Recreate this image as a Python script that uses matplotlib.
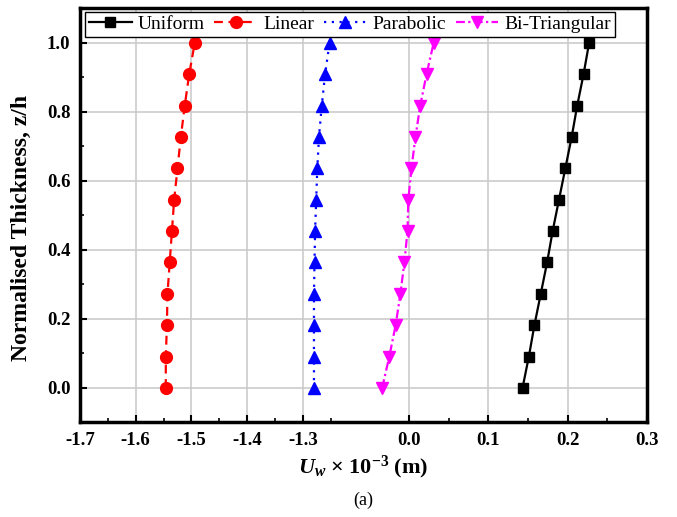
import numpy as np
import matplotlib
matplotlib.use("Agg")
import matplotlib.pyplot as plt
from matplotlib.ticker import FixedLocator

plt.rcParams['font.family'] = ['Liberation Serif', 'DejaVu Serif']
plt.rcParams['mathtext.fontset'] = 'custom'
plt.rcParams['mathtext.rm'] = 'Liberation Serif:bold'
plt.rcParams['mathtext.it'] = 'Liberation Serif:italic:bold'
plt.rcParams['mathtext.bf'] = 'Liberation Serif:bold'

# normalised thickness (12 points from 0 to 1)
z = np.linspace(0, 1, 12)

uniform = [0.143, 0.151, 0.158, 0.166, 0.174, 0.181, 0.189, 0.197, 0.205, 0.212, 0.220, 0.227]
linear = [-1.546, -1.546, -1.544, -1.543, -1.539, -1.535, -1.531, -1.525, -1.519, -1.512, -1.504, -1.494]
parabolic = [-1.280, -1.280, -1.280, -1.280, -1.279, -1.278, -1.276, -1.274, -1.271, -1.266, -1.260, -1.252]
bi_triangular = [-0.034, -0.025, -0.017, -0.011, -0.006, -0.002, -0.001, 0.003, 0.008, 0.014, 0.022, 0.031]

xticks = [-1.7, -1.6, -1.5, -1.4, -1.3, 0.0, 0.1, 0.2, 0.3]
xtick_labels = ["-1.7", "-1.6", "-1.5", "-1.4", "-1.3", "0.0", "0.1", "0.2", "0.3"]
yticks = [0.0, 0.2, 0.4, 0.6, 0.8, 1.0]

# broken x axis: -1.7..-1.2 | -0.05..0.3
b1, b2 = -1.2, -0.05
s1 = 0.9824
s2 = 1.3986
g1 = (b1 + 1.7) * s1
g2 = 1.0 - (0.3 - b2) * s2
sg = (g2 - g1) / (b2 - b1)


def fwd(x):
    x = np.asarray(x, dtype=float)
    return np.where(x <= b1, (x + 1.7) * s1,
                    np.where(x >= b2, g2 + (x - b2) * s2, g1 + (x - b1) * sg))


def inv(u):
    u = np.asarray(u, dtype=float)
    return np.where(u <= g1, u / s1 - 1.7,
                    np.where(u >= g2, b2 + (u - g2) / s2, b1 + (u - g1) / sg))


fig = plt.figure(figsize=(6.77, 5.17), dpi=100)
ax = fig.add_axes([0.1182, 0.1828, 0.8375, 0.8012])
ax.set_xscale('function', functions=(fwd, inv))

ax.plot(uniform, z, color='black', ls='-', lw=1.6, marker='s', ms=7, label='Uniform', zorder=3)
ax.plot(linear, z, color='red', ls=(0, (4, 2.5)), lw=1.6, marker='o', ms=8.5, label='Linear', zorder=3)
ax.plot(parabolic, z, color='blue', ls=(0, (1, 2.5)), lw=1.6, marker='^', ms=9, label='Parabolic', zorder=3)
ax.plot(bi_triangular, z, color='magenta', ls=(0, (4, 1.5, 1, 1.5)), lw=1.6, marker='v', ms=9,
        label='Bi-Triangular', zorder=3)

ax.set_xlim(-1.7, 0.3)
ax.set_ylim(-0.1, 1.1)
ax.xaxis.set_major_locator(FixedLocator(xticks))
ax.set_xticklabels(xtick_labels)
ax.xaxis.set_minor_locator(FixedLocator([-1.65, -1.55, -1.45, -1.35, -1.25, 0.05, 0.15, 0.25]))
ax.set_yticks(yticks)
ax.yaxis.set_minor_locator(FixedLocator([-0.1, 0.1, 0.3, 0.5, 0.7, 0.9, 1.1]))

ax.grid(True, which='major', color='#c8c8c8', lw=1.1, zorder=0)
ax.set_axisbelow(True)
for s in ax.spines.values():
    s.set_linewidth(2.5)
ax.tick_params(which='major', direction='in', length=5, width=1.5, labelsize=13.5, pad=7)
ax.tick_params(which='minor', direction='in', length=3, width=1.2)
for lab in ax.get_xticklabels() + ax.get_yticklabels():
    lab.set_fontweight('bold')

ax.set_ylabel('Normalised Thickness, z/h', fontsize=17, fontweight='bold')
ax.yaxis.set_label_coords(-0.085, 0.47)
ax.set_xlabel(r'$U_w$ × 10$^{-3}$ (m)', fontsize=16, fontweight='bold', labelpad=3)
fig.text(0.537, 0.032, '(a)', ha='center', va='center', fontsize=13)

leg = ax.legend(loc='upper left', bbox_to_anchor=(0.0088, 0.992), ncol=4, fontsize=14,
                frameon=True, fancybox=False, edgecolor='black', framealpha=1,
                handlelength=2.2, handletextpad=0.3, columnspacing=0.5,
                borderpad=0.2, borderaxespad=0)
leg.get_frame().set_linewidth(1.0)

fig.savefig('out.png', dpi=100)
